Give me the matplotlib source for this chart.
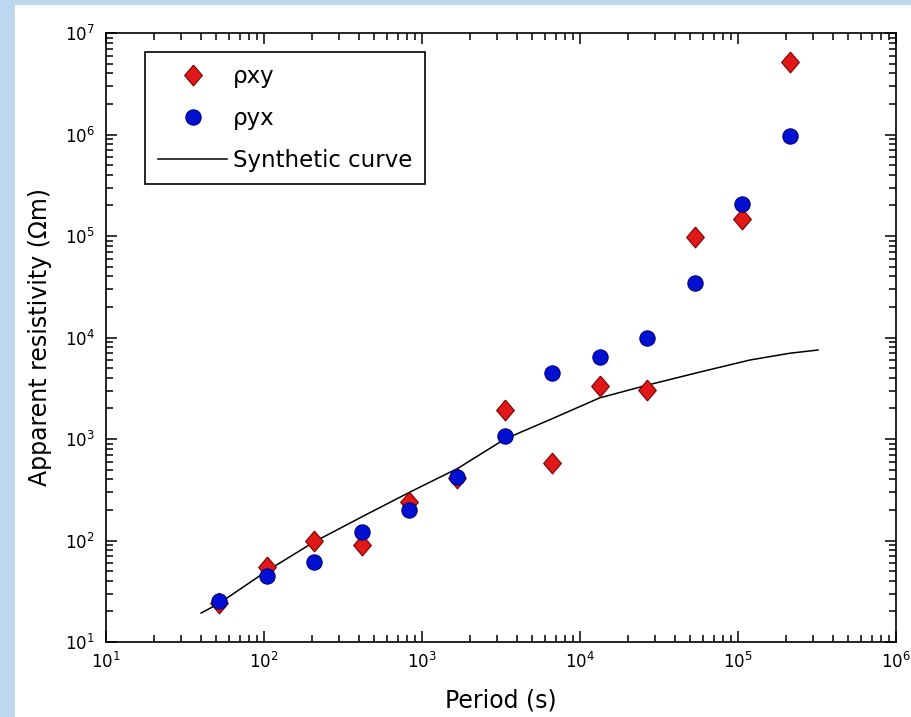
import matplotlib
matplotlib.use("Agg")
import matplotlib.pyplot as plt
from matplotlib.patches import Rectangle

# -- Data ------------------------------------------------------------------
period = [52, 104, 208, 416, 832, 1664, 3328, 6656, 13312, 26624, 53248, 106496, 212992]
rho_xy = [24, 55, 98, 90, 239, 410, 1930, 581, 3330, 3040, 97700, 147000, 5180000]
rho_yx = [25.4, 44.7, 61, 121, 200, 423, 1070, 4470, 6430, 9890, 34400, 206000, 967000]

curve_period = [40, 52, 104, 208, 416, 839, 1690, 3350, 6760, 13300, 26600, 57500, 119000, 213000, 321000]
curve_rho = [19.3, 24, 50, 97, 171, 300, 515, 1000, 1600, 2540, 3390, 4570, 6000, 7000, 7530]

fig = plt.figure(figsize=(9.12, 7.17), dpi=100)
fig.patch.set_facecolor("#BDD7EE")
# white page area (light blue strip on the left and top)
fig.patches.append(Rectangle((15 / 912, 0), 1 - 15 / 912, 1 - 5 / 717,
                             transform=fig.transFigure, facecolor="white",
                             edgecolor="none", zorder=-10))

ax = fig.add_axes([106 / 912, 1 - 642 / 717, 790 / 912, 609 / 717])
ax.set_zorder(1)
ax.set_xscale("log")
ax.set_yscale("log")

diamond = [(0, 1), (0.85, 0), (0, -1), (-0.85, 0), (0, 1)]
ax.plot(period, rho_xy, linestyle="none", marker=diamond, markersize=15,
        markerfacecolor="#E01818", markeredgecolor="#7A0000", markeredgewidth=0.8,
        label="\u03c1xy", zorder=3)
ax.plot(period, rho_yx, linestyle="none", marker="o", markersize=11,
        markerfacecolor="#0010D0", markeredgecolor="#000080", markeredgewidth=0.8,
        label="\u03c1yx", zorder=4)
ax.plot(curve_period, curve_rho, color="black", linewidth=1.1,
        label="Synthetic curve", zorder=2)

ax.set_xlim(1e1, 1e6)
ax.set_ylim(1e1, 1e7)
ax.set_xlabel("Period (s)", fontsize=17, labelpad=12)
ax.set_ylabel("Apparent resistivity (\u03a9m)", fontsize=17, labelpad=9)

ax.tick_params(which="both", direction="in", top=True, right=True, width=1.1)
ax.tick_params(which="major", length=8, labelsize=12)
ax.tick_params(which="minor", length=5)
ax.tick_params(axis="x", pad=7)
ax.tick_params(axis="y", pad=8)
for s in ax.spines.values():
    s.set_linewidth(1.2)

leg = ax.legend(loc="upper left", bbox_to_anchor=((145 - 106) / 790, 1 - (52 - 33) / 609),
                borderaxespad=0, fontsize=16.5, frameon=True, fancybox=False,
                edgecolor="black", framealpha=1, numpoints=1,
                handlelength=3.05, handletextpad=0.22, labelspacing=0.83,
                borderpad=0.55)
leg.get_frame().set_linewidth(1.2)

fig.savefig("out.png", dpi=100, facecolor=fig.get_facecolor())
